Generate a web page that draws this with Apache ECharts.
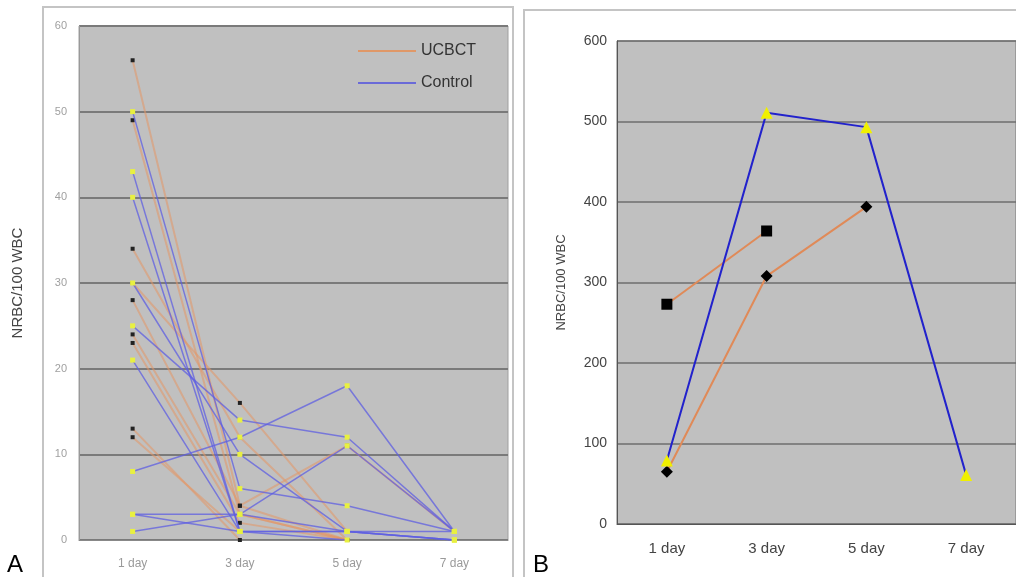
<!DOCTYPE html>
<html>
<head>
<meta charset="utf-8">
<script src="https://cdn.jsdelivr.net/npm/echarts@6/dist/echarts.min.js"></script>
<style>
  html, body { margin: 0; padding: 0; background: #fff; }
  #main { width: 1016px; height: 577px; }
</style>
</head>
<body>
<div id="main"></div>
<script>
// categories
var days = ['1 day', '3 day', '5 day', '7 day'];
var yTicksA = [0, 60, 10];
var yTicksB = [0, 600, 100];

// panel A - one array per patient
var ucbctA = [
    [56, 4, 0, null],
    [49, 3, 0, null],
    [34, 12, 0, null],
    [30, 16, 1, null],
    [28, 4, 11, 1],
    [24, 3, 0, null],
    [23, 2, 0, null],
    [13, 0, null, null],
    [12, 1, null, null]
];
var controlA = [
    [50, 6, 4, 1],
    [43, 1, null, null],
    [40, 1, 1, 0],
    [30, 10, 1, 1],
    [25, 14, 12, 1],
    [21, 1, 0, null],
    [8, 12, 18, 1],
    [3, 3, 1, 0],
    [3, 1, 1, 0],
    [1, 3, 11, 1]
];

// panel B
var controlB = [79, 511, 493, 61];
var ucbctB1 = [273, 364, null, null];
var ucbctB2 = [65, 308, 394, null];

var orangeA = 'rgba(228,150,100,0.55)';
var blueA = 'rgba(95,95,225,0.75)';

var chart = echarts.init(document.getElementById('main'));

var series = [];
//A: ucbct
ucbctA.forEach(function (d) {
    series.push({
        name: 'UCBCT', type: 'line', xAxisIndex: 0, yAxisIndex: 0,
        data: d, symbol: 'rect', symbolSize: 4,
        itemStyle: {color: '#222'},
        lineStyle: {color: orangeA, width: 2},
        z: 3
    });
});
//A: control
controlA.forEach(function (d) {
    series.push({
        name: 'Control', type: 'line', xAxisIndex: 0, yAxisIndex: 0,
        data: d, symbol: 'rect', symbolSize: 5,
        itemStyle: {color: '#e8f040'},
        lineStyle: {color: blueA, width: 1.5},
        z: 4
    });
});
//B
series.push({
    name: 'b-ucbct1', type: 'line', xAxisIndex: 1, yAxisIndex: 1,
    data: ucbctB1, symbol: 'rect', symbolSize: 11,
    itemStyle: {color: '#000'},
    lineStyle: {color: '#e08a58', width: 2}
});
series.push({
    name: 'b-ucbct2', type: 'line', xAxisIndex: 1, yAxisIndex: 1,
    data: ucbctB2, symbol: 'diamond', symbolSize: 12,
    itemStyle: {color: '#000'},
    lineStyle: {color: '#e08a58', width: 2}
});
series.push({
    name: 'b-control', type: 'line', xAxisIndex: 1, yAxisIndex: 1,
    data: controlB, symbol: 'triangle', symbolSize: 12,
    itemStyle: {color: '#f0f000'},
    lineStyle: {color: '#2222cc', width: 2}
});

var option = {
    animation: false,
    textStyle: {fontFamily: 'Arial, "Liberation Sans", sans-serif'},
    graphic: [
        {type: 'rect', z: -10, shape: {x: 43, y: 7, width: 470, height: 600},
            style: {fill: '#fff', stroke: '#c4c4c4', lineWidth: 2}},
        {type: 'rect', z: -10, shape: {x: 524, y: 10, width: 500, height: 600},
            style: {fill: '#fff', stroke: '#c4c4c4', lineWidth: 2}},
        {type: 'text', left: 7, top: 553, style: {text: 'A', fontSize: 24, fill: '#000', fontFamily: 'Arial'}},
        {type: 'text', left: 533, top: 553, style: {text: 'B', fontSize: 24, fill: '#000', fontFamily: 'Arial'}}
    ],
    legend: {
        data: [
            {name: 'UCBCT', icon: 'rect', itemStyle: {color: '#e09868'}},
            {name: 'Control', icon: 'rect', itemStyle: {color: '#6a6ad8'}}
        ],
        orient: 'vertical',
        left: 353, top: 38,
        itemWidth: 58, itemHeight: 2, itemGap: 16,
        textStyle: {fontSize: 16, color: '#333'}
    },
    grid: [
        {left: 79, top: 26, width: 429, height: 514, show: true,
            backgroundColor: '#c0c0c0', borderColor: '#a0a0a0', borderWidth: 1},
        {left: 617, top: 41, width: 399, height: 483, show: true,
            backgroundColor: '#c0c0c0', borderColor: '#777', borderWidth: 1}
    ],
    xAxis: [
        {type: 'category', gridIndex: 0, data: days,
            axisLine: {lineStyle: {color: '#888'}},
            axisTick: {inside: true, length: 4, lineStyle: {color: '#888'}},
            axisLabel: {color: '#9a9a9a', fontSize: 12, margin: 18}},
        {type: 'category', gridIndex: 1, data: days,
            axisLine: {lineStyle: {color: '#555'}},
            axisTick: {inside: true, length: 4, lineStyle: {color: '#555'}},
            axisLabel: {color: '#444', fontSize: 15, margin: 17}}
    ],
    yAxis: [
        {type: 'value', gridIndex: 0, min: yTicksA[0], max: yTicksA[1], interval: yTicksA[2],
            name: 'NRBC/100 WBC', nameLocation: 'middle', nameGap: 54, nameRotate: 90,
            nameTextStyle: {color: '#444', fontSize: 15},
            axisLine: {show: true, lineStyle: {color: '#999'}},
            axisTick: {show: false},
            axisLabel: {color: '#a0a0a0', fontSize: 11, margin: 12},
            splitLine: {lineStyle: {color: '#7a7a7a', width: 2}}},
        {type: 'value', gridIndex: 1, min: yTicksB[0], max: yTicksB[1], interval: yTicksB[2],
            name: 'NRBC/100 WBC', nameLocation: 'middle', nameGap: 49, nameRotate: 90,
            nameTextStyle: {color: '#444', fontSize: 13},
            axisLine: {show: true, lineStyle: {color: '#555'}},
            axisTick: {show: false},
            axisLabel: {color: '#444', fontSize: 14, margin: 10},
            splitLine: {lineStyle: {color: '#6e6e6e', width: 1.5}}}
    ],
    series: series
};
chart.setOption(option);
</script>
</body>
</html>
